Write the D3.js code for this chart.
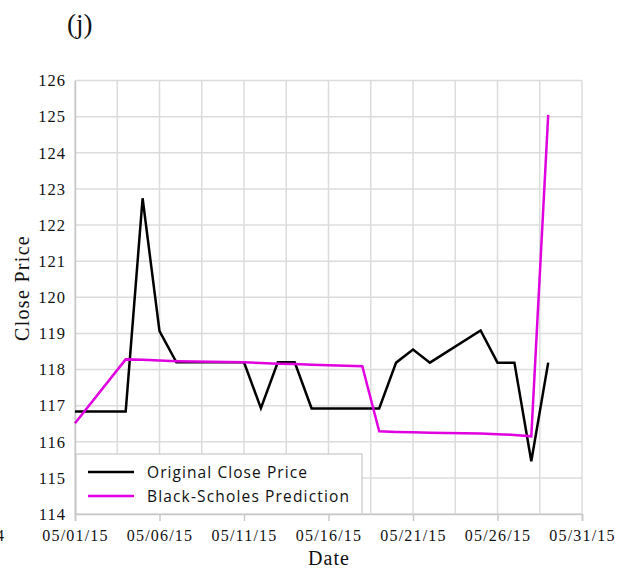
<!DOCTYPE html>
<html>
<head>
<meta charset="utf-8">
<script src="https://cdn.jsdelivr.net/npm/d3@7"></script>
<style>
  body { margin: 0; background: #fff; }
  svg { display: block; }
</style>
</head>
<body>
<div id="chart"></div>
<script>
// trading days shown in the panel (May 2015)
var dates = ["2015-05-01","2015-05-04","2015-05-05","2015-05-06","2015-05-07","2015-05-08",
  "2015-05-11","2015-05-12","2015-05-13","2015-05-14","2015-05-15",
  "2015-05-18","2015-05-19","2015-05-20","2015-05-21","2015-05-22",
  "2015-05-25","2015-05-26","2015-05-27","2015-05-28","2015-05-29"];

var closePrice = [116.84,116.84,122.74,119.06,118.2,118.2,
  118.2,116.93,118.2,118.2,116.92,
  116.92,116.92,118.19,118.55,118.19,
  119.08,118.19,118.19,115.46,118.19];

var bsPrediction = [116.51,118.28,118.27,118.25,118.23,118.22,
  118.2,118.18,118.16,118.15,118.13,
  118.09,116.29,116.27,116.26,116.25,
  116.23,116.21,116.19,116.15,125.05];

var seriesNames = ["Original Close Price", "Black-Scholes Prediction"];
var yTicks = [114,115,116,117,118,119,120,121,122,123,124,125,126];

var W = 619, H = 569;
var margin = {top: 80.5, right: 37, bottom: 55, left: 75};
var width = W - margin.left - margin.right,
    height = H - margin.top - margin.bottom;

var parse = d3.timeParse("%Y-%m-%d");
var fmt = d3.timeFormat("%m/%d/%y");

var svg = d3.select("#chart").append("svg")
  .attr("width", W).attr("height", H);

var g = svg.append("g")
  .attr("transform", "translate(" + margin.left + "," + margin.top + ")");

var x = d3.scaleTime()
  .domain([parse("2015-05-01"), parse("2015-05-31")])
  .range([0, width]);

var y = d3.scaleLinear()
  .domain([114, 126])
  .range([height, 0]);

// vertical grid every 2.5 days
var gridDates = d3.range(0, 13).map(function(k) {
  return new Date(x.domain()[0].getTime() + k * 2.5 * 864e5);
});
g.append("g").selectAll("line")
  .data(gridDates).enter().append("line")
  .attr("x1", function(d) { return x(d); })
  .attr("x2", function(d) { return x(d); })
  .attr("y1", 0).attr("y2", height)
  .attr("stroke", "#dcdcdc").attr("stroke-width", 1.5);

// horizontal grid
g.append("g").selectAll("line")
  .data(yTicks).enter().append("line")
  .attr("x1", 0).attr("x2", width)
  .attr("y1", function(d) { return y(d); })
  .attr("y2", function(d) { return y(d); })
  .attr("stroke", "#dcdcdc").attr("stroke-width", 1.5);

// x axis
var xAxis = g.append("g")
  .attr("transform", "translate(0," + height + ")")
  .call(d3.axisBottom(x).ticks(d3.timeDay.every(5)).tickFormat(fmt).tickSize(7).tickPadding(9));
xAxis.select(".domain").attr("stroke", "#c8c8c8").attr("stroke-width", 1.5);
xAxis.selectAll(".tick line").attr("stroke", "#c8c8c8").attr("stroke-width", 1.5);
xAxis.selectAll("text")
  .style("font-family", "'Liberation Serif', serif")
  .style("font-size", "16px")
  .style("letter-spacing", "1.2px")
  .attr("fill", "#111");

// y axis
var yAxis = g.append("g")
  .call(d3.axisLeft(y).tickValues(yTicks).tickSize(0).tickPadding(9));
yAxis.select(".domain").attr("stroke", "#c8c8c8").attr("stroke-width", 1.5);
yAxis.selectAll("text")
  .style("font-family", "'Liberation Serif', serif")
  .style("font-size", "16.5px")
  .style("letter-spacing", "1px")
  .attr("fill", "#111");

// clipped label from neighbouring panel
svg.append("text")
  .attr("x", 4).attr("y", 541)
  .attr("text-anchor", "end")
  .style("font-family", "'Liberation Serif', serif")
  .style("font-size", "16px")
  .attr("fill", "#111")
  .text("4");

// lines
var line = function(vals) {
  return d3.line()
    .x(function(d, i) { return x(parse(dates[i])); })
    .y(function(d) { return y(d); })(vals);
};

g.append("path")
  .attr("d", line(closePrice))
  .attr("fill", "none").attr("stroke", "#000")
  .attr("stroke-width", 2.5).attr("stroke-linejoin", "miter");

g.append("path")
  .attr("d", line(bsPrediction))
  .attr("fill", "none").attr("stroke", "#e000e0")
  .attr("stroke-width", 2.5).attr("stroke-linejoin", "miter");

// legend
var leg = g.append("g").attr("transform", "translate(1," + (height - 60) + ")");
leg.append("rect")
  .attr("width", 286).attr("height", 60)
  .attr("fill", "#fff").attr("stroke", "#c8c8c8").attr("stroke-width", 1.2);
var colors = ["#000", "#e000e0"];
var textLen = [160, 202];
seriesNames.forEach(function(name, i) {
  var yy = 18 + i * 24;
  leg.append("line")
    .attr("x1", 12).attr("x2", 58)
    .attr("y1", yy).attr("y2", yy)
    .attr("stroke", colors[i]).attr("stroke-width", 2.5);
  leg.append("text")
    .attr("x", 71).attr("y", yy + 5.5)
    .attr("textLength", textLen[i]).attr("lengthAdjust", "spacing")
    .style("font-family", "'Open Sans', sans-serif")
    .style("font-size", "15.5px")
    .attr("fill", "#111")
    .text(name);
});

// axis titles
svg.append("text")
  .attr("x", 329).attr("y", 565)
  .attr("text-anchor", "middle")
  .style("font-family", "'Liberation Serif', serif")
  .style("font-size", "20px")
  .style("letter-spacing", "1px")
  .attr("fill", "#111")
  .text("Date");

svg.append("text")
  .attr("transform", "translate(29,288) rotate(-90)")
  .attr("text-anchor", "middle")
  .style("font-family", "'Liberation Serif', serif")
  .style("font-size", "20px")
  .style("letter-spacing", "1.3px")
  .attr("fill", "#111")
  .text("Close Price");

// panel label
svg.append("text")
  .attr("x", 67).attr("y", 33)
  .style("font-family", "'Liberation Serif', serif")
  .style("font-size", "27px")
  .attr("fill", "#111")
  .text("(j)");
</script>
</body>
</html>
